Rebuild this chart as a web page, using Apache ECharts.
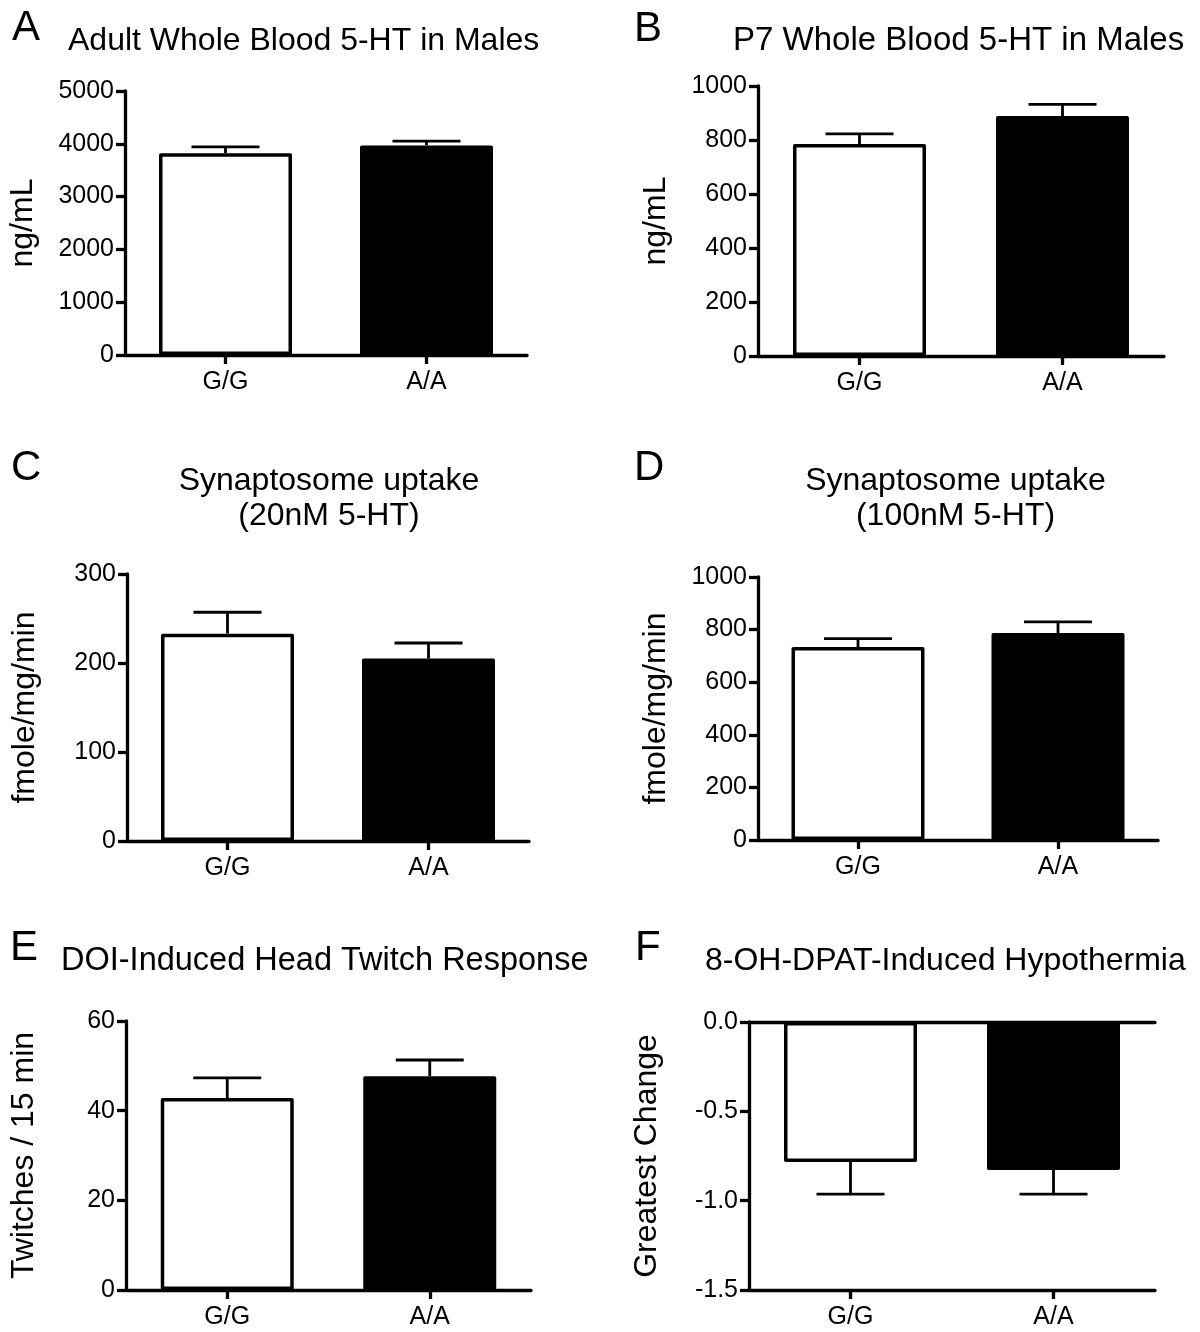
<!DOCTYPE html>
<html>
<head>
<meta charset="utf-8">
<script src="https://cdn.jsdelivr.net/npm/echarts@6/dist/echarts.min.js"></script>
<style>
  html, body { margin: 0; padding: 0; background: #fff; }
  #chart { width: 1200px; height: 1332px; }
</style>
</head>
<body>
<div id="chart"></div>
<script>
// ---- data ----
const categories = ['G/G', 'A/A'];

const adultMean = [3820, 3970];
const adultSem = [120, 80];
const p7Mean = [785, 889];
const p7Sem = [38, 43];
const syn20Mean = [233, 205];
const syn20Sem = [24, 17.5];
const syn100Mean = [734, 787];
const syn100Sem = [32, 42];
const doiMean = [42.8, 47.7];
const doiSem = [4.5, 3.6];
const dpatMean = [-0.783, -0.828];
const dpatSem = [0.18, 0.135];

const ticksA = [0, 1000, 2000, 3000, 4000, 5000];
const ticksB = [0, 200, 400, 600, 800, 1000];
const ticksC = [0, 100, 200, 300];
const ticksD = [0, 200, 400, 600, 800, 1000];
const ticksE = [0, 20, 40, 60];
const ticksF = [-1.5, -1.0, -0.5, 0.0];

// ---- layout / style ----
const FONT = '"Liberation Sans", Arial, Helvetica, sans-serif';
const barFills = ['#ffffff', '#000000'];

const panels = [
  { letter: 'A', title: 'Adult Whole Blood 5-HT in Males', yName: 'ng/mL', mean: adultMean, sem: adultSem, ticks: ticksA, dec: 0,
    grid: { left: 125, top: 91, width: 402, height: 264 } },
  { letter: 'B', title: 'P7 Whole Blood 5-HT in Males', yName: 'ng/mL', mean: p7Mean, sem: p7Sem, ticks: ticksB, dec: 0,
    grid: { left: 758, top: 86, width: 406, height: 270 } },
  { letter: 'C', title: 'Synaptosome uptake\n(20nM 5-HT)', yName: 'fmole/mg/min', mean: syn20Mean, sem: syn20Sem, ticks: ticksC, dec: 0,
    grid: { left: 127, top: 574, width: 402, height: 267 } },
  { letter: 'D', title: 'Synaptosome uptake\n(100nM 5-HT)', yName: 'fmole/mg/min', mean: syn100Mean, sem: syn100Sem, ticks: ticksD, dec: 0,
    grid: { left: 758, top: 577, width: 400, height: 263 } },
  { letter: 'E', title: 'DOI-Induced Head Twitch Response', yName: 'Twitches / 15 min', mean: doiMean, sem: doiSem, ticks: ticksE, dec: 0,
    grid: { left: 126, top: 1021, width: 405, height: 269 } },
  { letter: 'F', title: '8-OH-DPAT-Induced Hypothermia', yName: 'Greatest Change', mean: dpatMean, sem: dpatSem, ticks: ticksF, dec: 1,
    grid: { left: 749, top: 1022, width: 406, height: 268 } }
];

const letterPos = [[12, 28], [634, 29], [11, 468], [634, 468], [10, 948], [635, 948]];
const titlePos = [
  { x: 68, y: 41, align: 'left', size: 32 },
  { x: 733, y: 41, align: 'left', size: 33 },
  { x: 329, y: 498.5, align: 'center', size: 32 },
  { x: 955.5, y: 498.5, align: 'center', size: 32 },
  { x: 61, y: 961, align: 'left', size: 32.5 },
  { x: 705, y: 961, align: 'left', size: 32 }
];

const axisLineStyle = { color: '#000', width: 3.3 };

const grids = panels.map(p => Object.assign({ containLabel: false }, p.grid));

const xAxes = panels.map((p, i) => ({
  type: 'category',
  gridIndex: i,
  data: categories,
  position: 'bottom',
  axisLine: { show: true, onZero: false, lineStyle: axisLineStyle },
  axisTick: { show: true, alignWithLabel: true, length: 9, lineStyle: { color: '#000', width: 3.3 } },
  axisLabel: { color: '#000', fontSize: 25, fontFamily: FONT, margin: 15 },
  splitLine: { show: false }
}));
// top line at 0.0 for panel F
xAxes.push({
  type: 'category',
  gridIndex: 5,
  data: categories,
  position: 'top',
  axisLine: { show: true, onZero: false, lineStyle: axisLineStyle },
  axisTick: { show: false },
  axisLabel: { show: false },
  splitLine: { show: false }
});

const yAxes = panels.map((p, i) => ({
  type: 'value',
  gridIndex: i,
  min: p.ticks[0],
  max: p.ticks[p.ticks.length - 1],
  interval: p.ticks[1] - p.ticks[0],
  axisLine: { show: true, lineStyle: axisLineStyle },
  axisTick: { show: true, length: 9, lineStyle: { color: '#000', width: 3.3 } },
  axisLabel: {
    color: '#000', fontSize: 25, fontFamily: FONT, margin: 11,
    formatter: v => Number(v).toFixed(p.dec)
  },
  splitLine: { show: false },
  name: p.yName,
  nameLocation: 'middle',
  nameRotate: 90,
  nameGap: 86,
  nameTextStyle: { color: '#000', fontSize: 32, fontFamily: FONT }
}));

const series = [];
panels.forEach((p, i) => {
  series.push({
    type: 'bar',
    xAxisIndex: i,
    yAxisIndex: i,
    barWidth: 133,
    itemStyle: { borderColor: '#000', borderWidth: 3.5, borderJoin: 'round' },
    data: p.mean.map((v, j) => ({ value: v, itemStyle: { color: barFills[j] } })),
    z: 2
  });
  series.push({
    type: 'custom',
    xAxisIndex: i,
    yAxisIndex: i,
    encode: { x: 0, y: 1 },
    data: p.mean.map((v, j) => [j, v, v + Math.sign(v) * p.sem[j]]),
    renderItem: (params, api) => {
      const a = api.coord([api.value(0), api.value(1)]);
      const b = api.coord([api.value(0), api.value(2)]);
      const st = { stroke: '#000', lineWidth: 2.8 };
      return {
        type: 'group',
        children: [
          { type: 'line', shape: { x1: a[0], y1: a[1], x2: b[0], y2: b[1] }, style: st },
          { type: 'line', shape: { x1: b[0] - 34, y1: b[1], x2: b[0] + 34, y2: b[1] }, style: st }
        ]
      };
    },
    z: 3
  });
});

const graphics = [];
panels.forEach((p, i) => {
  graphics.push({
    type: 'text',
    x: letterPos[i][0], y: letterPos[i][1],
    style: { text: p.letter, fill: '#000', font: '42px ' + FONT, align: 'left', verticalAlign: 'middle' }
  });
  graphics.push({
    type: 'text',
    x: titlePos[i].x, y: titlePos[i].y,
    style: { text: p.title, fill: '#000', font: titlePos[i].size + 'px ' + FONT, lineHeight: 35, align: titlePos[i].align, verticalAlign: 'middle' }
  });
});

const chart = echarts.init(document.getElementById('chart'), null, { renderer: 'canvas' });
chart.setOption({
  animation: false,
  backgroundColor: '#ffffff',
  grid: grids,
  xAxis: xAxes,
  yAxis: yAxes,
  series: series,
  graphic: graphics
});
</script>
</body>
</html>
